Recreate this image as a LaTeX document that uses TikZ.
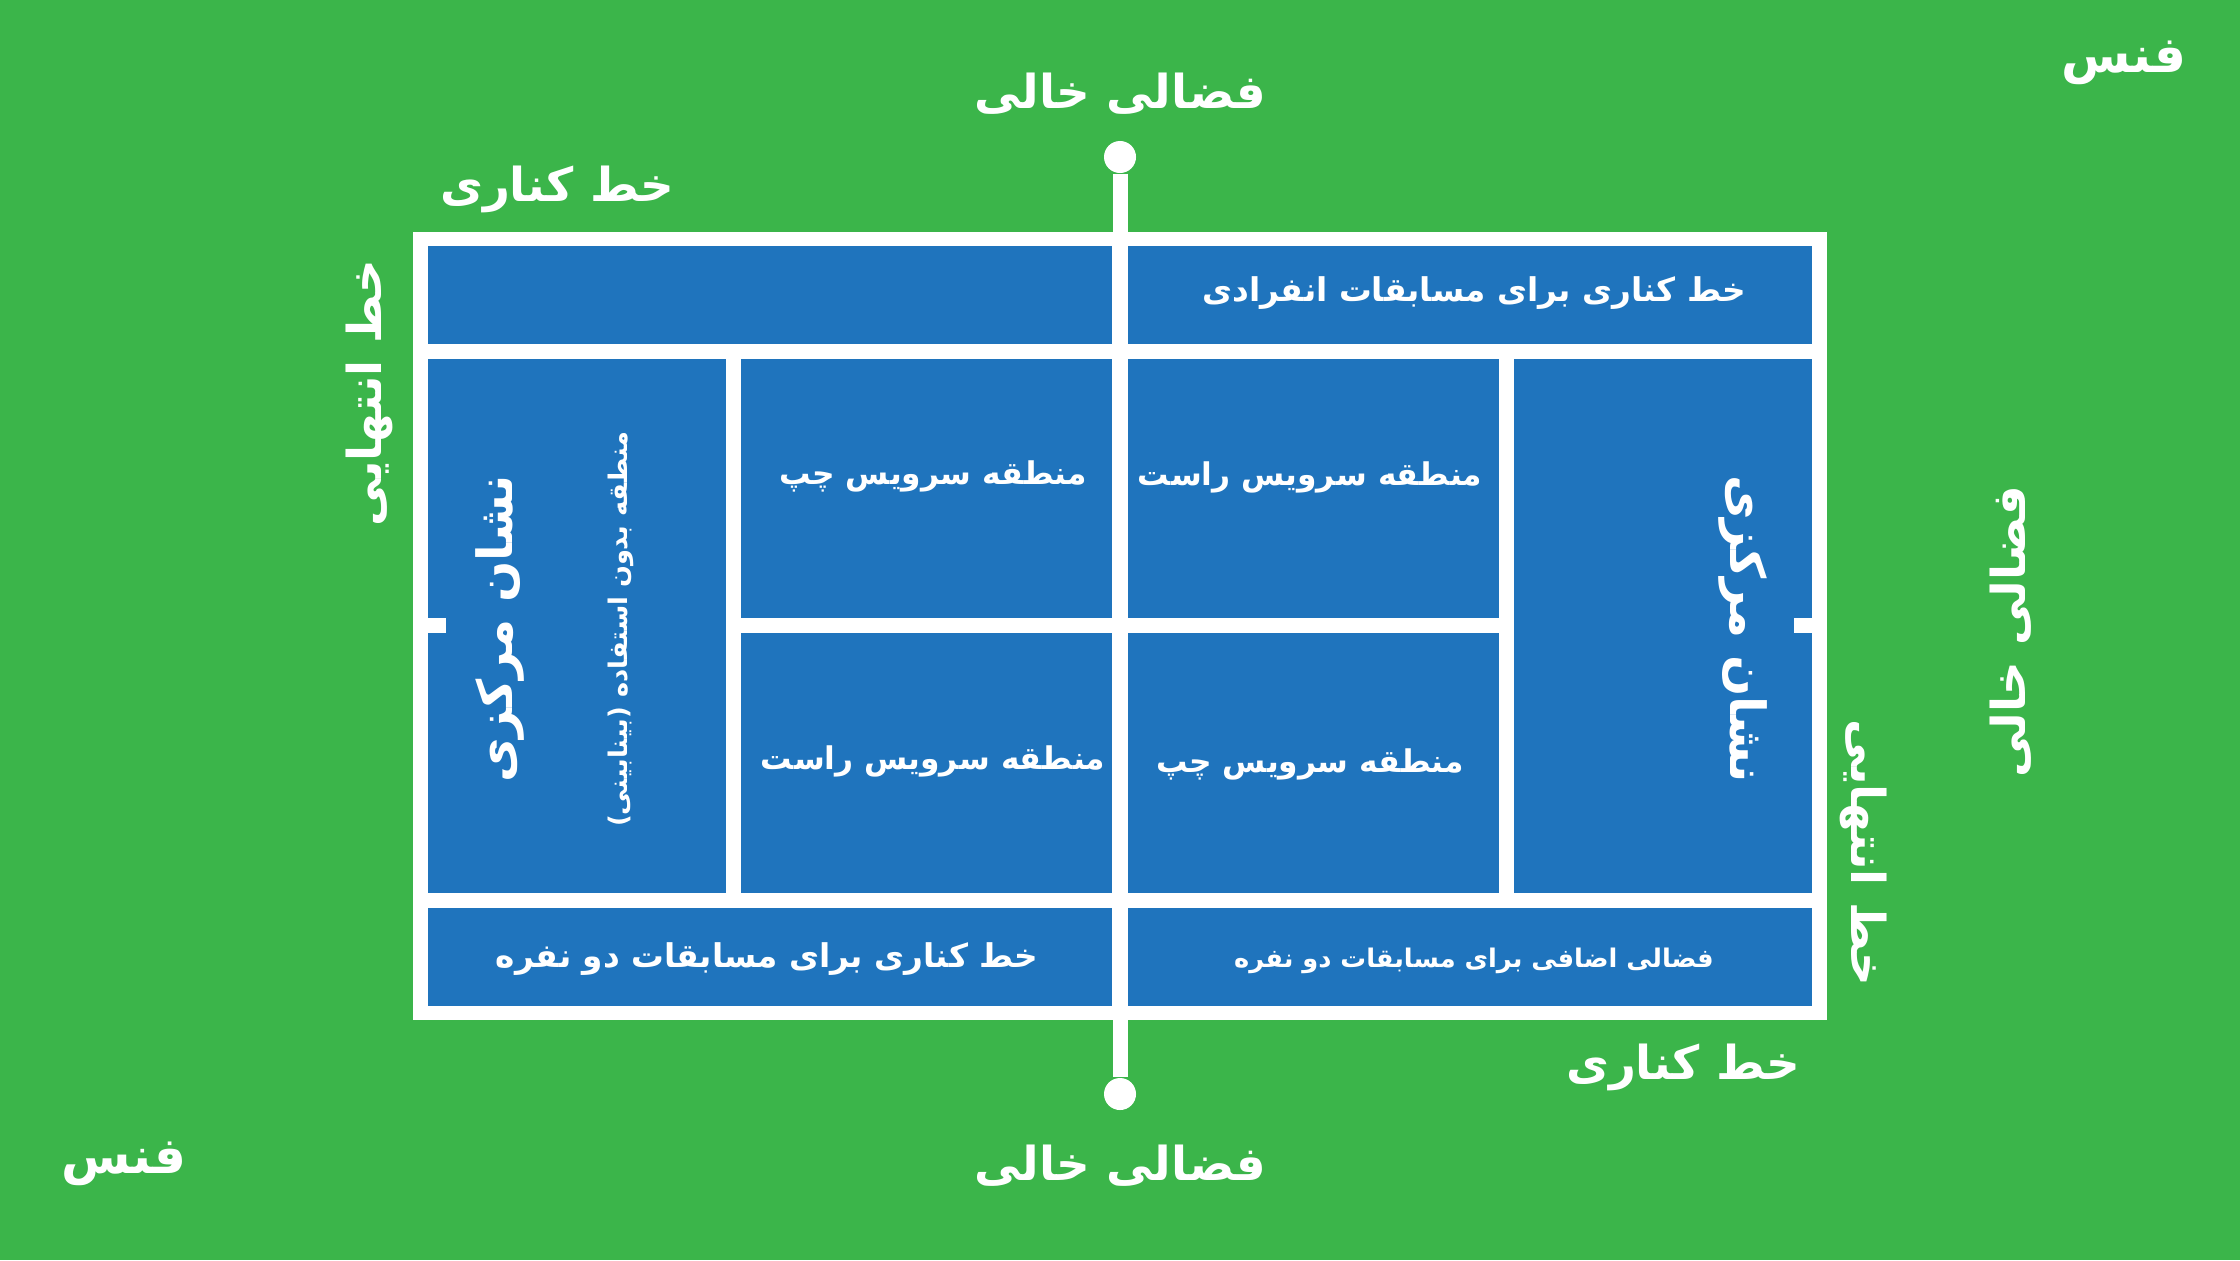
\documentclass[tikz,border=0pt]{standalone}
\usepackage{fontspec}
\newfontfamily\fa[Script=Arabic]{DejaVu Sans}
\TeXXeTstate=1
\definecolor{grass}{RGB}{59,181,74}
\definecolor{court}{RGB}{31,116,189}
\tikzset{
  zone/.style={fill=court},
  biglbl/.style={text=white, font=\fa\bfseries\fontsize{13.3}{16}\selectfont, inner sep=0pt},
  boxlbl/.style={text=white, font=\fa\bfseries\fontsize{9.3}{12}\selectfont, inner sep=0pt},
  svclbl/.style={text=white, font=\fa\bfseries\fontsize{8.9}{11}\selectfont, inner sep=0pt},
  smalllbl/.style={text=white, font=\fa\bfseries\fontsize{7.3}{9}\selectfont, inner sep=0pt},
  post/.style={circle, fill=white, minimum size=0.32cm, inner sep=0pt},
  netline/.style={draw=white, line width=0.15cm}
}
\newcommand{\rtl}[1]{\beginR #1\endR}
\begin{document}
\begin{tikzpicture}[x=0.01cm,y=-0.01cm]
\fill[grass] (0,0) rectangle (2240,1260);
\useasboundingbox (0,0) rectangle (2240,1260);
% court outline
\fill[white] (413,232) rectangle (1827,1020);
% zones
\fill[zone] (428,246) rectangle (1112,344);
\fill[zone] (1127,246) rectangle (1812,344);
\fill[zone] (428,359) rectangle (726,893);
\fill[zone] (741,359) rectangle (1112,618);
\fill[zone] (741,633) rectangle (1112,893);
\fill[zone] (1127,359) rectangle (1499,618);
\fill[zone] (1127,633) rectangle (1499,893);
\fill[zone] (1514,359) rectangle (1812,893);
\fill[zone] (428,908) rectangle (1112,1006);
\fill[zone] (1127,908) rectangle (1812,1006);
% centre marks
\fill[white] (428,618) rectangle (446,633);
\fill[white] (1794,618) rectangle (1812,633);
% net
\node[post] (ntop) at (1120,157) {};
\node[post] (nbot) at (1120,1094) {};
\draw[netline] (ntop) -- (nbot);
% outside labels
\node[biglbl] (ftop) at (1120,94) {\rtl{فضالی خالی}};
\node[biglbl] (fbot) at (1120,1166) {\rtl{فضالی خالی}};
\node[biglbl] (fright) at (2011,632) [rotate=90] {\rtl{فضالی خالی}};
\node[biglbl, font=\fa\bfseries\fontsize{14.3}{17}\selectfont] (fence1) at (2124,63) {\rtl{فنس}};
\node[biglbl, font=\fa\bfseries\fontsize{14.3}{17}\selectfont] (fence2) at (124,1164) {\rtl{فنس}};
\node[biglbl] (side1) at (557,189) {\rtl{خط کناری}};
\node[biglbl] (side2) at (1683,1067) {\rtl{خط کناری}};
\node[biglbl] (base1) at (369,393) [rotate=90] {\rtl{خط انتهایی}};
\node[biglbl] (base2) at (1864,853) [rotate=-90] {\rtl{خط انتهایی}};
% inside labels
\node[biglbl, font=\fa\bfseries\fontsize{13.8}{16}\selectfont] (cm1) at (500,629) [rotate=90] {\rtl{نشان مرکزی}};
\node[biglbl, font=\fa\bfseries\fontsize{13.8}{16}\selectfont] (cm2) at (1743,629) [rotate=-90] {\rtl{نشان مرکزی}};
\node[smalllbl] (nomans) at (621,629) [rotate=90] {\rtl{منطقه بدون استفاده (بینابینی)}};
\node[boxlbl] (single) at (1474,293) {\rtl{خط کناری برای مسابقات انفرادی}};
\node[svclbl] (s1) at (933,476) {\rtl{منطقه سرویس چپ}};
\node[svclbl] (s2) at (1310,477) {\rtl{منطقه سرویس راست}};
\node[svclbl] (s3) at (933,761) {\rtl{منطقه سرویس راست}};
\node[svclbl] (s4) at (1310,764) {\rtl{منطقه سرویس چپ}};
\node[boxlbl] (doubles) at (767,959) {\rtl{خط کناری برای مسابقات دو نفره}};
\node[smalllbl] (extra) at (1474,961) {\rtl{فضالی اضافی برای مسابقات دو نفره}};
\end{tikzpicture}
\end{document}
